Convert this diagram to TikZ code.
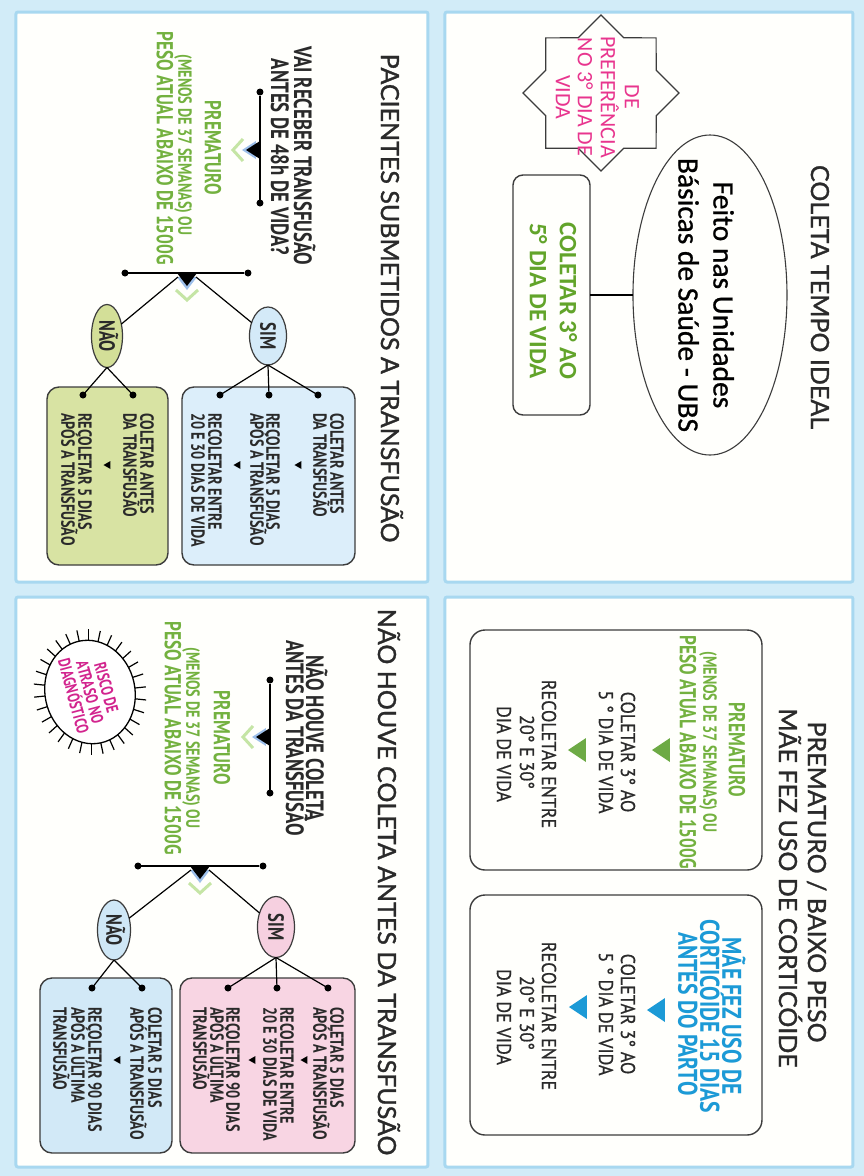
\documentclass[tikz,border=0pt]{standalone}
\usepackage{fontspec}
\setmainfont{Lato}
\newfontfamily\ttlfont[FakeBold=1.2]{Lato}
\newfontfamily\condfont[FakeStretch=0.75]{PT Sans}
\newfontfamily\condmfont[FakeStretch=0.8]{PT Sans}
\newfontfamily\condxfont[FakeStretch=0.9,FakeBold=0.7]{PT Sans}
\newfontfamily\calfont{Carlito}
\newfontfamily\calbfont[FakeBold=0.8]{Carlito}
\usetikzlibrary{shapes.geometric,calc}
\definecolor{bg}{HTML}{D2ECF8}
\definecolor{pb}{HTML}{A8D8F0}
\definecolor{pf}{HTML}{FFFFFC}
\definecolor{tc}{HTML}{2A2A2A}
\definecolor{lc}{HTML}{3C3C3C}
\definecolor{gT}{HTML}{73B13F}
\definecolor{gA}{HTML}{62A42A}
\definecolor{gTri}{HTML}{6DAA45}
\definecolor{blT}{HTML}{1C9AD6}
\definecolor{pS}{HTML}{E8358E}
\definecolor{pR}{HTML}{D2248E}
\definecolor{simC}{HTML}{D4EAF8}
\definecolor{boxCb}{HTML}{DCEEFA}
\definecolor{naoC}{HTML}{D3DF98}
\definecolor{boxCg}{HTML}{D8E3A3}
\definecolor{simD}{HTML}{F6D0E0}
\definecolor{boxDp}{HTML}{F8D5E3}
\definecolor{naoD}{HTML}{CFE7F6}
\definecolor{boxDb}{HTML}{D2E9F7}
\definecolor{chevc}{HTML}{C5E5A5}
\definecolor{shb}{HTML}{9DBFEA}
\tikzset{
  every node/.style={inner sep=0pt,outer sep=0pt},
  panel/.style={draw=pb,line width=3pt,fill=pf,rounded corners=2pt},
  ttl/.style={font=\ttlfont\fontsize{25}{28}\selectfont,text=tc,text height=18pt,text depth=0pt},
  qb/.style={font=\condfont\bfseries\fontsize{25}{25}\selectfont,text=tc,text height=17.5pt,text depth=0pt},
  gb/.style={font=\condfont\bfseries\fontsize{23}{23}\selectfont,text=gT,text height=16pt,text depth=0pt},
  gs/.style={font=\condfont\bfseries\fontsize{19}{19}\selectfont,text=gT,text height=13.3pt,text depth=0pt},
  bt/.style={font=\condfont\bfseries\fontsize{19}{19}\selectfont,text=tc,text height=13.3pt,text depth=0pt,anchor=west},
  kb/.style={font=\condxfont\fontsize{20}{20}\selectfont,text=tc,text height=14pt,text depth=0pt},
  blt/.style={font=\condmfont\bfseries\fontsize{27}{27}\selectfont,text=blT,text height=19pt,text depth=0pt},
  fe/.style={font=\calbfont\fontsize{29.5}{30}\selectfont,text=black,text height=19pt,text depth=0pt},
  gc/.style={font=\calfont\bfseries\fontsize{25}{25}\selectfont,text=gA,text height=16pt,text depth=0pt},
  pk/.style={font=\calfont\fontsize{22}{22}\selectfont,text=pS,text height=14.2pt,text depth=0pt},
  rk/.style={font=\condfont\bfseries\fontsize{17}{17}\selectfont,text=pR,text height=12pt,text depth=0pt},
  ellt/.style={ellipse,draw=lc,line width=1.2pt,font=\condfont\bfseries\fontsize{22}{22}\selectfont,text=tc,text height=15.4pt,text depth=0pt},
  box/.style={draw=lc,line width=1.4pt,rounded corners=15pt},
  cbox/.style={draw=lc,line width=1.4pt,rounded corners=12pt},
  dot/.style={circle,fill=black,minimum size=7pt},
  conn/.style={draw=black,line width=1.2pt},
  bar/.style={draw=black,line width=1.6pt},
  chev/.style={draw=chevc,line width=3pt},
}
\newcommand\downtri[2]{%
  \draw[chev] (#1-11,-#2-17) -- (#1,-#2-27) -- (#1+11,-#2-17);
  \fill[shb] (#1-9,-#2-4) -- (#1+9,-#2-4) -- (#1,-#2-18) -- cycle;
  \fill[black] (#1-9,-#2) -- (#1+9,-#2) -- (#1,-#2-14) -- cycle;}
\newcommand\righttri[2]{%
  \draw[chev] (#1+17,-#2+11) -- (#1+27,-#2) -- (#1+17,-#2-11);
  \fill[shb] (#1+4,-#2+10) -- (#1+4,-#2-10) -- (#1+17,-#2) -- cycle;
  \fill[black] (#1,-#2+10) -- (#1,-#2-10) -- (#1+13,-#2) -- cycle;}
\newcommand\stri[2]{\fill[black] (#1-4,-#2+3.5) -- (#1+4,-#2+3.5) -- (#1,-#2-3.5) -- cycle;}
\newcommand\btri[3]{\fill[#3] (#1-12,-#2+9) -- (#1+12,-#2+9) -- (#1,-#2-9) -- cycle;}
\begin{document}
\begin{tikzpicture}[x=1pt,y=1pt]
\begin{scope}[rotate=-90,transform shape]
\path[use as bounding box,fill=bg] (0,0) rectangle (1176,-864);
\draw[panel] (12,-11) rectangle (582,-419);
\draw[panel] (597,-11) rectangle (1167,-419);
\draw[panel] (12,-436) rectangle (582,-848);
\draw[panel] (597,-436) rectangle (1167,-848);

% ---------- Panel A ----------
\node[ttl] (tA) at (297,-44) {COLETA TEMPO IDEAL};
\node[ellipse,draw=lc,line width=1.1pt,minimum width=320,minimum height=154] (ubs) at (295,-154) {};
\node[fe] (ubs1) at (295,-141) {Feito nas Unidades};
\node[fe] (ubs2) at (295,-176) {Básicas de Saúde - UBS};
\node[draw=lc,line width=1.4pt,rounded corners=10pt,minimum width=240,minimum height=77] (col) at (295,-312.5) {};
\node[gc] (col1) at (301,-296) {COLETAR 3° AO};
\node[gc] (col2) at (301,-326) {5° DIA DE VIDA};
\draw[conn] (ubs.south) -- (col.north);
\begin{scope}[shift={(93,-263)}]
\draw[draw=lc,line width=1.2pt] (78,0) -- (55.16,22.85) -- (55.15,55.15) -- (22.85,55.16) -- (0,78) -- (-22.85,55.16) -- (-55.15,55.15) -- (-55.16,22.85) -- (-78,0) -- (-55.16,-22.85) -- (-55.15,-55.15) -- (-22.85,-55.16) -- (0,-78) -- (22.85,-55.16) -- (55.15,-55.15) -- (55.16,-22.85) -- cycle;
\end{scope}
\node[pk] (s1) at (97,-232) {DE};
\node[pk] (s2) at (97,-256) {PREFERÊNCIA};
\node[pk] (s3) at (97,-279) {NO 3° DIA DE};
\node[pk] (s4) at (97,-301) {VIDA};

% ---------- Panel B ----------
\node[ttl] (tB1) at (882,-47) {PREMATURO / BAIXO PESO};
\node[ttl] (tB2) at (888,-76) {MÃE FEZ USO DE CORTICÓIDE};
\node[box,minimum width=240,minimum height=292] (b1) at (750,-248) {};
\node[box,minimum width=240,minimum height=292] (b2) at (1015,-248) {};
\node[gb] (b1a) at (750,-127) {PREMATURO};
\node[gs] (b1b) at (742,-154) {(MENOS DE 37 SEMANAS) OU};
\node[gb] (b1c) at (752,-176) {PESO ATUAL ABAIXO DE 1500G};
\btri{750}{203}{gTri}
\btri{750}{287}{gTri}
\node[kb] (b1d) at (752,-236) {COLETAR 3° AO};
\node[kb] (b1e) at (752,-258) {5 ° DIA DE VIDA};
\node[kb] (b1f) at (754,-315) {RECOLETAR ENTRE};
\node[kb] (b1g) at (752,-337) {20° E 30°};
\node[kb] (b1h) at (754,-360) {DIA DE VIDA};
\node[blt] (b2a) at (1016,-132) {MÃE FEZ USO DE};
\node[blt] (b2b) at (1016,-154) {CORTICÓIDE 15 DIAS};
\node[blt] (b2c) at (1014,-176) {ANTES DO PARTO};
\btri{1010}{208}{blT}
\btri{1007}{286}{blT}
\node[kb] (b2d) at (1014,-236) {COLETAR 3° AO};
\node[kb] (b2e) at (1014,-258) {5 ° DIA DE VIDA};
\node[kb] (b2f) at (1016,-315) {RECOLETAR ENTRE};
\node[kb] (b2g) at (1013,-337) {20° E 30°};
\node[kb] (b2h) at (1017,-360) {DIA DE VIDA};

% ---------- Panel C ----------
\node[ttl] (tC) at (298,-474) {PACIENTES SUBMETIDOS A TRANSFUSÃO};
\node[qb] (qC1) at (156,-561) {VAI RECEBER TRANSFUSÃO};
\node[qb] (qC2) at (157,-584) {ANTES DE 48h DE VIDA?};
\node[dot] (c1a) at (92,-604) {};
\node[dot] (c1b) at (203,-604) {};
\draw[bar] (c1a) -- (c1b);
\downtri{150}{604}
\node[gb] (gC1) at (148,-651) {PREMATURO};
\node[gs] (gC2) at (145,-679) {(MENOS DE 37 SEMANAS) OU};
\node[gb] (gC3) at (148,-699) {PESO ATUAL ABAIXO DE 1500G};
\node[dot] (c2a) at (273,-616) {};
\node[dot] (c2b) at (273,-739) {};
\draw[bar] (c2a) -- (c2b);
\righttri{273}{677}
\coordinate (c2s) at (277,-668);
\coordinate (c2n) at (277,-686);
\node[ellt,fill=simC,minimum width=58,minimum height=37] (simC) at (336,-596) {SIM};
\node[ellt,fill=naoC,minimum width=63,minimum height=31] (naoC) at (336,-757) {NÃO};
\draw[conn] (c2s) -- (simC);
\draw[conn] (c2n) -- (naoC);
\node[cbox,fill=boxCb,minimum width=178,minimum height=173] (bxC1) at (476,-595.5) {};
\node[cbox,fill=boxCg,minimum width=178,minimum height=121] (bxC2) at (476,-756.5) {};
\node[dot] (dC1) at (395,-546) {};
\node[dot] (dC2) at (395,-595) {};
\node[dot] (dC3) at (395,-644) {};
\node[dot] (dC4) at (395,-731) {};
\node[dot] (dC5) at (395,-781) {};
\draw[conn] (simC.east) -- (dC1.center);
\draw[conn] (simC.east) -- (dC2.center);
\draw[conn] (simC.east) -- (dC3.center);
\draw[conn] (naoC.east) -- (dC4.center);
\draw[conn] (naoC.east) -- (dC5.center);
\node[bt] (xC1) at (413,-527) {COLETAR ANTES};
\node[bt] (xC2) at (413,-544) {DA TRANSFUSÃO};
\stri{465}{566}
\node[bt] (xC3) at (413,-591) {RECOLETAR 5 DIAS};
\node[bt] (xC4) at (413,-607) {APÓS A TRANSFUSÃO};
\stri{465}{627}
\node[bt] (xC5) at (413,-649) {RECOLETAR ENTRE};
\node[bt] (xC6) at (413,-666) {20 E 30 DIAS DE VIDA};
\node[bt] (yC1) at (413,-717) {COLETAR ANTES};
\node[bt] (yC2) at (413,-734) {DA TRANSFUSÃO};
\stri{465}{757}
\node[bt] (yC3) at (413,-779) {RECOLETAR 5 DIAS};
\node[bt] (yC4) at (413,-796) {APÓS A TRANSFUSÃO};

% ---------- Panel D ----------
\node[ttl] (tD) at (882,-477) {NÃO HOUVE COLETA ANTES DA TRANSFUSÃO};
\node[qb] (qD1) at (738,-549) {NÃO HOUVE COLETA};
\node[qb] (qD2) at (738,-569) {ANTES DA TRANSFUSÃO};
\node[dot] (d1a) at (680,-594) {};
\node[dot] (d1b) at (793,-594) {};
\draw[bar] (d1a) -- (d1b);
\downtri{737}{594}
\node[gb] (gD1) at (738,-642) {PREMATURO};
\node[gs] (gD2) at (738,-671) {(MENOS DE 37 SEMANAS) OU};
\node[gb] (gD3) at (738,-691) {PESO ATUAL ABAIXO DE 1500G};
\node[dot] (d2a) at (866,-601) {};
\node[dot] (d2b) at (866,-726) {};
\draw[bar] (d2a) -- (d2b);
\righttri{866}{664}
\coordinate (d2s) at (870,-655);
\coordinate (d2n) at (870,-673);
\node[ellt,fill=simD,minimum width=61,minimum height=37] (simD) at (927,-588) {SIM};
\node[ellt,fill=naoD,minimum width=60,minimum height=33] (naoD) at (930,-750) {NÃO};
\draw[conn] (d2s) -- (simD);
\draw[conn] (d2n) -- (naoD);
\node[cbox,fill=boxDp,minimum width=175,minimum height=175] (bxD1) at (1065.5,-596.5) {};
\node[cbox,fill=boxDb,minimum width=175,minimum height=132] (bxD2) at (1065.5,-758) {};
\node[dot] (dD1) at (988,-536) {};
\node[dot] (dD2) at (988,-587) {};
\node[dot] (dD3) at (988,-636) {};
\node[dot] (dD4) at (988,-722) {};
\node[dot] (dD5) at (988,-772) {};
\draw[conn] (simD.east) -- (dD1.center);
\draw[conn] (simD.east) -- (dD2.center);
\draw[conn] (simD.east) -- (dD3.center);
\draw[conn] (naoD.east) -- (dD4.center);
\draw[conn] (naoD.east) -- (dD5.center);
\node[bt] (xD1) at (1007,-527) {COLETAR 5 DIAS};
\node[bt] (xD2) at (1007,-544) {APÓS A TRANSFUSÃO};
\stri{1060}{560}
\node[bt] (xD3) at (1007,-577) {RECOLETAR ENTRE};
\node[bt] (xD4) at (1007,-594) {20 E 30 DIAS DE VIDA};
\stri{1060}{612}
\node[bt] (xD5) at (1007,-631) {RECOLETAR 90 DIAS};
\node[bt] (xD6) at (1007,-647) {APÓS A ÚLTIMA};
\node[bt] (xD7) at (1007,-664) {TRANSFUSÃO};
\node[bt] (yD1) at (1007,-709) {COLETAR 5 DIAS};
\node[bt] (yD2) at (1007,-727) {APÓS A TRANSFUSÃO};
\stri{1060}{747}
\node[bt] (yD3) at (1007,-769) {RECOLETAR 90 DIAS};
\node[bt] (yD4) at (1007,-786) {APÓS A ÚLTIMA};
\node[bt] (yD5) at (1007,-804) {TRANSFUSÃO};
\begin{scope}[shift={(692,-774)},rotate=12]
\draw[black,line width=1.3pt,fill=white] (0,0) ellipse [x radius=52,y radius=45];
\foreach \t in {0,12,...,348}
  \draw[black,line width=1.2pt] ({52*cos(\t)},{45*sin(\t)}) -- ({63*cos(\t)},{56*sin(\t)});
\end{scope}
\node[rk,rotate=15] (rk1) at ($(692,-774)+(105:17)$) {RISCO DE};
\node[rk,rotate=15] (rk2) at (692,-774) {ATRASO NO};
\node[rk,rotate=15] (rk3) at ($(692,-774)+(-75:17)$) {DIAGNÓSTICO};
\end{scope}
\end{tikzpicture}
\end{document}
